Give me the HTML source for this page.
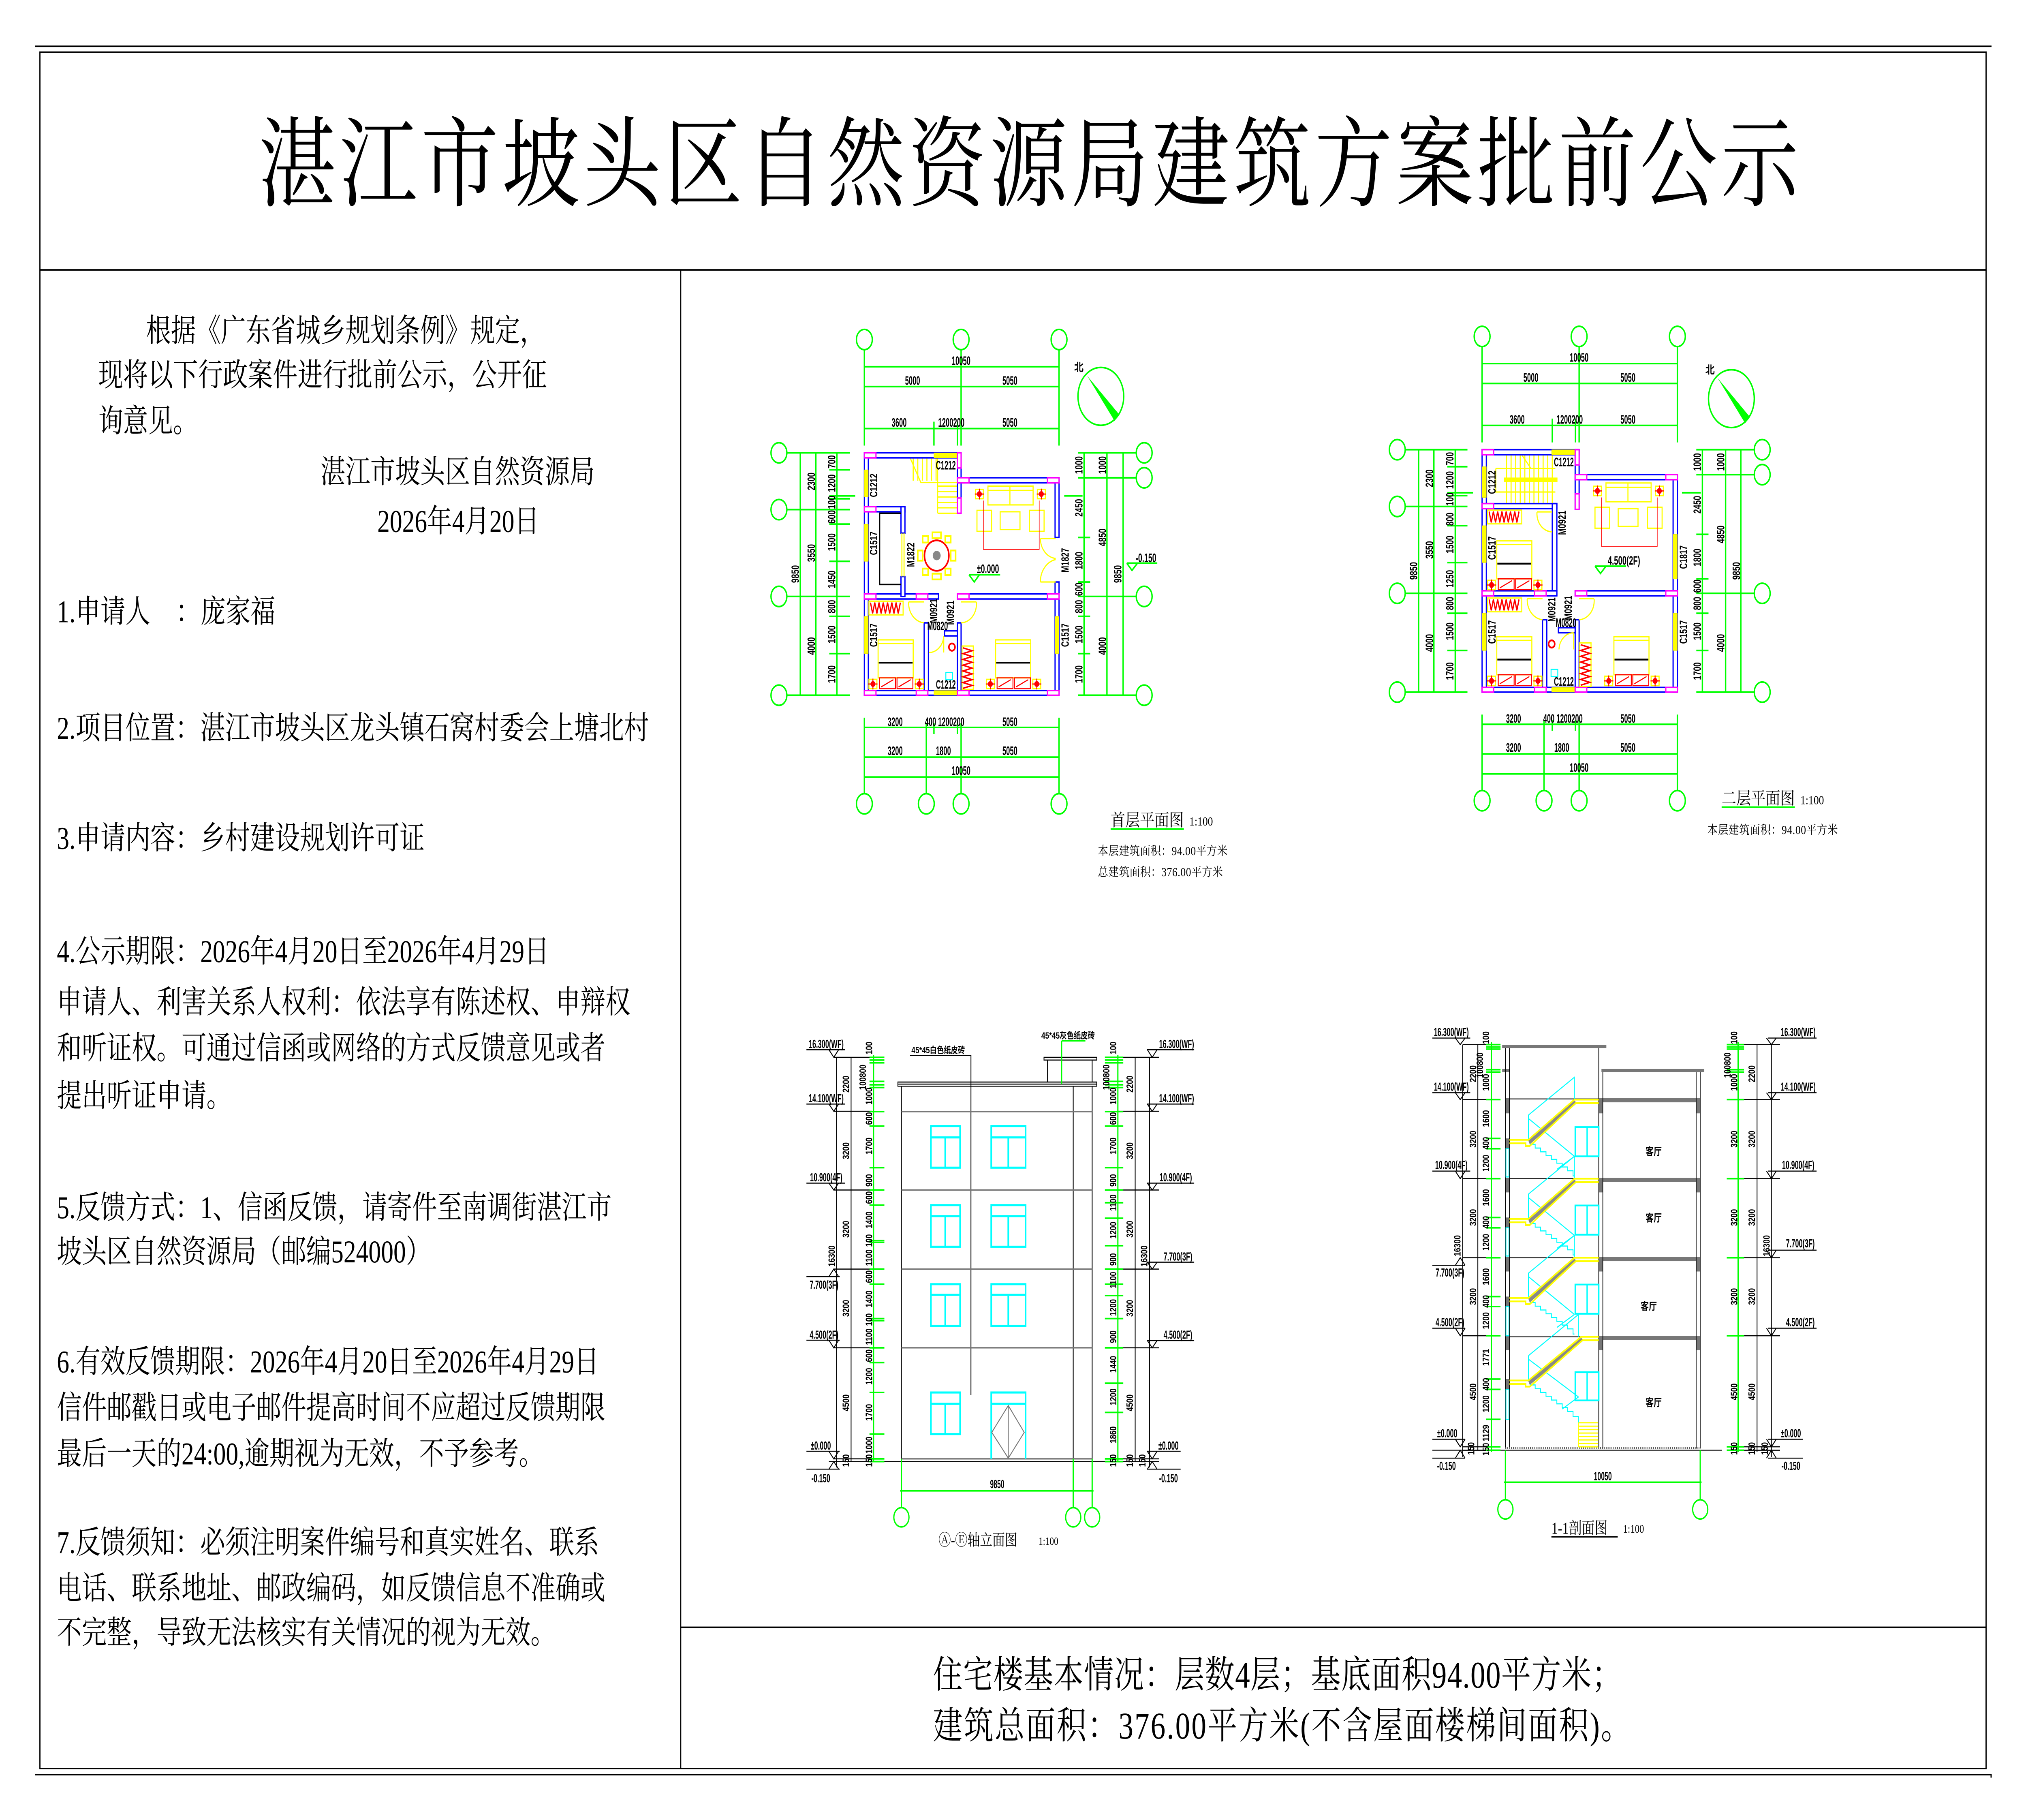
<!DOCTYPE html>
<html><head><meta charset="utf-8">
<style>
html,body{margin:0;padding:0;background:#fff;width:100%;height:100%;overflow:hidden;}
svg{display:block;position:absolute;left:0;top:0;width:100vw;height:100vh}
.f{stroke:#000;stroke-width:0.9;fill:none}
.lt{font-family:"Liberation Serif","Noto Serif CJK SC",serif;font-size:19.3px;fill:#000}
.g{stroke:#00ff00;stroke-width:4.5;fill:none}
.b{stroke:#0000ff;stroke-width:4;fill:#fff}
.m{stroke:#ff00ff;stroke-width:4;fill:#fff}
.y{stroke:#ffff00;stroke-width:3.5;fill:none}
.yf{fill:#ffff00;stroke:#e0e000;stroke-width:1}
.r{stroke:#ff0000;stroke-width:3;fill:none}
.c{stroke:#00ffff;stroke-width:6;fill:none}
.c2{stroke:#00ffff;stroke-width:3;fill:none}
.k{stroke:#000;stroke-width:3;fill:none}
.gr{stroke:#777;stroke-width:4;fill:none}
.t{font-family:"Liberation Sans",sans-serif;font-weight:bold;font-size:34px;text-anchor:middle;fill:#000}
.cn{font-family:"Liberation Serif","Noto Serif CJK SC",serif;fill:#000}
.cb{font-family:"Liberation Sans","Noto Sans CJK SC",sans-serif;font-weight:bold;fill:#000}
</style></head><body>
<svg viewBox="0 0 1568 1108.6" preserveAspectRatio="none" xmlns="http://www.w3.org/2000/svg">
<defs>
<g id="lamp"><rect x="-13" y="-13" width="26" height="26" class="y"/><circle r="8" fill="#f00"/><path d="M-15 0H15M0 -15V15" class="r"/></g>
<g id="sofa"><rect x="40" y="0" width="148" height="52" class="y"/><path class="y" d="M112 0V52M40 12H188"/><rect x="4" y="67" width="48" height="58" class="y"/><rect x="176" y="67" width="48" height="58" class="y"/><rect x="80" y="71" width="65" height="49" class="y"/><path class="r" style="stroke-width:2" d="M25 40V175H208V40"/><use href="#lamp" x="12" y="22"/><use href="#lamp" x="215" y="22"/></g>
<g id="bed"><rect width="115" height="105" class="y"/><path d="M2 63H113" stroke="#000" stroke-width="5"/><path class="y" d="M0 10H115"/><rect x="5" y="105" width="52" height="30" class="r"/><rect x="62" y="105" width="52" height="30" class="r"/><path class="r" d="M10 130L50 110M67 130L107 110"/><use href="#lamp" x="-17" y="122"/><use href="#lamp" x="135" y="122"/></g>
<g id="wh"><rect width="112" height="38" class="y"/><polyline class="r" style="stroke-width:4" points="5,4 12,34 19,4 26,34 33,4 40,34 47,4 54,34 61,4 68,34 75,4 82,34 89,4 96,34 103,4"/></g>
<g id="wv"><rect width="37" height="120" class="y"/><polyline class="r" style="stroke-width:4" points="3,5 33,13 3,21 33,29 3,37 33,45 3,53 33,61 3,69 33,77 3,85 33,93 3,101 33,109 3,117"/></g>
</defs>

<!-- frame -->
<path class="f" d="M27 28.2H1541.3M30.9 31.8H1537.1V1077.2H30.9ZM30.9 164.4H1537.1M526.8 164.4V1077.2M526.8 991.2H1537.1M27 1081H1541V1082.8"/>

<text class="cn" x="200" y="121" font-size="60" textLength="1192" lengthAdjust="spacing">湛江市坡头区自然资源局建筑方案批前公示</text>

<!-- left column -->
<text class="lt" x="113" y="208">根据《广东省城乡规划条例》规定，</text>
<text class="lt" x="76" y="235">现将以下行政案件进行批前公示，公开征</text>
<text class="lt" x="76" y="263">询意见。</text>
<text class="lt" x="248" y="294">湛江市坡头区自然资源局</text>
<text class="lt" x="292" y="324">2026年4月20日</text>
<text class="lt" x="44" y="379">1.申请人</text>
<text class="lt" x="136" y="379">：庞家福</text>
<text class="lt" x="44" y="450">2.项目位置：湛江市坡头区龙头镇石窝村委会上塘北村</text>
<text class="lt" x="44" y="517">3.申请内容：乡村建设规划许可证</text>
<text class="lt" x="44" y="586">4.公示期限：2026年4月20日至2026年4月29日</text>
<text class="lt" x="44" y="617">申请人、利害关系人权利：依法享有陈述权、申辩权</text>
<text class="lt" x="44" y="645">和听证权。可通过信函或网络的方式反馈意见或者</text>
<text class="lt" x="44" y="674">提出听证申请。</text>
<text class="lt" x="44" y="742">5.反馈方式：1、信函反馈，请寄件至南调街湛江市</text>
<text class="lt" x="44" y="769">坡头区自然资源局（邮编524000）</text>
<text class="lt" x="44" y="836">6.有效反馈期限：2026年4月20日至2026年4月29日</text>
<text class="lt" x="44" y="864">信件邮戳日或电子邮件提高时间不应超过反馈期限</text>
<text class="lt" x="44" y="892">最后一天的24:00,逾期视为无效，不予参考。</text>
<text class="lt" x="44" y="946">7.反馈须知：必须注明案件编号和真实姓名、联系</text>
<text class="lt" x="44" y="974">电话、联系地址、邮政编码，如反馈信息不准确或</text>
<text class="lt" x="44" y="1001">不完整，导致无法核实有关情况的视为无效。</text>

<!-- bottom box -->
<text class="cn" x="722" y="1028" font-size="23" textLength="533" lengthAdjust="spacing">住宅楼基本情况：层数4层；基底面积94.00平方米；</text>
<text class="cn" x="722" y="1059" font-size="23" textLength="540" lengthAdjust="spacing">建筑总面积：376.00平方米(不含屋面楼梯间面积)。</text>

<!-- ============ PLAN 1 ============ -->
<g transform="translate(587.5,192.5) scale(0.23615,0.2204)">
<path class="g" d="M345 92V358M662 92V358M983 92V358M345 140H983M345 195H983M345 311H983M573 292V358M650 292V358M345 1110V1322M983 1110V1322M548 1125V1322M662 1125V1322M573 1125V1155M650 1125V1155M345 1137H983M345 1219H983M345 1274H983M92 378H297M92 535H297M92 775H297M92 1048H297M135 378V1048M186 378V1048M255 378V1048M230 425H297M230 497H315M230 505H297M230 575H297M230 678H297M230 830H297M230 933H297M1045 378H1235M1045 447H1235M1045 775H1235M1045 1048H1235M1065 378V1048M1140 378V1048M1193 378V1048M1045 612H1085M1045 735H1085M1045 830H1085M1045 933H1085M1000 497H1060M688 715H790M688 715L705 735L722 715M1205 683H1305M1205 683L1222 703L1240 683M1152 1418H1392"/>
<g class="g">
<ellipse cx="345" cy="65" rx="26" ry="28"/><ellipse cx="662" cy="65" rx="26" ry="28"/><ellipse cx="983" cy="65" rx="26" ry="28"/>
<ellipse cx="345" cy="1348" rx="26" ry="28"/><ellipse cx="548" cy="1348" rx="26" ry="28"/><ellipse cx="662" cy="1348" rx="26" ry="28"/><ellipse cx="983" cy="1348" rx="26" ry="28"/>
<ellipse cx="65" cy="378" rx="26" ry="28"/><ellipse cx="65" cy="535" rx="26" ry="28"/><ellipse cx="65" cy="775" rx="26" ry="28"/><ellipse cx="65" cy="1048" rx="26" ry="28"/>
<ellipse cx="1262" cy="378" rx="26" ry="28"/><ellipse cx="1262" cy="447" rx="26" ry="28"/><ellipse cx="1262" cy="775" rx="26" ry="28"/><ellipse cx="1262" cy="1048" rx="26" ry="28"/>
<ellipse cx="1120" cy="222" rx="75" ry="80"/>
</g>
<polygon points="1075,165 1180,272 1165,290" fill="#00ff00"/>
<!-- stairs -->
<path class="y" d="M495 392L530 460H650M505 392V455M520 392V455M535 392V455M550 392V455M565 392V455M580 392V455M585 392V545M585 470H650M585 485H650M585 500H650M585 515H650M585 530H650M585 545H650"/>
<!-- walls -->
<rect class="b" x="345" y="378" width="317" height="14"/>
<rect class="b" x="650" y="378" width="12" height="167"/>
<rect class="b" x="650" y="447" width="333" height="14"/>
<rect class="b" x="970" y="447" width="13" height="165"/>
<rect class="b" x="970" y="735" width="13" height="313"/>
<rect class="b" x="345" y="378" width="13" height="670"/>
<rect class="b" x="345" y="1035" width="638" height="13"/>
<rect class="b" x="345" y="768" width="243" height="14"/>
<rect class="b" x="650" y="768" width="333" height="14"/>
<rect class="b" x="358" y="527" width="120" height="14"/>
<rect class="b" x="465" y="527" width="13" height="73"/>
<rect class="b" x="465" y="720" width="13" height="55"/>
<rect class="b" x="541" y="848" width="14" height="187"/>
<rect class="b" x="650" y="848" width="12" height="187"/>
<rect class="b" x="608" y="870" width="42" height="14"/>
<g class="yf">
<rect x="573" y="378" width="77" height="14"/><rect x="345" y="425" width="13" height="75"/><rect x="345" y="575" width="13" height="103"/><rect x="345" y="830" width="13" height="103"/><rect x="970" y="830" width="13" height="103"/><rect x="573" y="1035" width="77" height="13"/>
</g>
<g class="m">
<rect x="345" y="378" width="38" height="14"/><rect x="650" y="378" width="12" height="42"/><rect x="650" y="503" width="12" height="42"/><rect x="650" y="447" width="38" height="14"/><rect x="945" y="447" width="38" height="14"/><rect x="345" y="527" width="38" height="14"/><rect x="345" y="768" width="38" height="14"/><rect x="515" y="768" width="38" height="14"/><rect x="650" y="768" width="38" height="14"/><rect x="945" y="768" width="38" height="14"/><rect x="345" y="1035" width="38" height="13"/><rect x="515" y="1035" width="38" height="13"/><rect x="650" y="1035" width="38" height="13"/><rect x="945" y="1035" width="38" height="13"/>
</g>
<!-- doors -->
<path class="y" d="M922 615H972M922 615A55 55 0 0 0 972 670M922 735H972M922 735A62 62 0 0 1 972 673M468 600V720M475 600V720M490 790H541M490 790A55 55 0 0 0 541 848M712 790H662M712 790A52 52 0 0 1 662 848M605 884V930M605 884A48 48 0 0 1 557 930"/>
<path d="M465 545H395V742H465" stroke="#000" stroke-width="4" fill="none"/>
<!-- dining -->
<ellipse cx="582" cy="662" rx="40" ry="42" class="r" style="stroke-width:5"/>
<circle cx="582" cy="662" r="13" fill="#888"/>
<g class="y" style="stroke-width:5"><rect x="568" y="598" width="28" height="16"/><rect x="568" y="712" width="28" height="16"/><rect x="520" y="648" width="16" height="28"/><rect x="628" y="648" width="16" height="28"/><rect x="536" y="608" width="18" height="18"/><rect x="610" y="608" width="18" height="18"/><rect x="536" y="698" width="18" height="18"/><rect x="610" y="698" width="18" height="18"/></g>
<use href="#sofa" x="710" y="470"/>
<use href="#bed" x="390" y="895"/>
<use href="#bed" x="775" y="895"/>
<use href="#wh" x="360" y="788"/>
<use href="#wv" x="665" y="912"/>
<circle cx="632" cy="915" r="10" class="r" style="stroke-width:5"/>
<rect x="612" y="985" width="22" height="20" class="c2"/>
<g class="t">
<text transform="translate(662,135)scale(.65,1)">10050</text>
<text transform="translate(503,190)scale(.65,1)">5000</text>
<text transform="translate(822,190)scale(.65,1)">5050</text>
<text transform="translate(459,306)scale(.65,1)">3600</text>
<text transform="translate(630,306)scale(.65,1)">1200200</text>
<text transform="translate(822,306)scale(.65,1)">5050</text>
<text transform="translate(446,1133)scale(.65,1)">3200</text>
<text transform="translate(608,1133)scale(.65,1)">400 1200200</text>
<text transform="translate(822,1133)scale(.65,1)">5050</text>
<text transform="translate(446,1213)scale(.65,1)">3200</text>
<text transform="translate(604,1213)scale(.65,1)">1800</text>
<text transform="translate(822,1213)scale(.65,1)">5050</text>
<text transform="translate(662,1268)scale(.65,1)">10050</text>
<text transform="translate(130,713)rotate(-90)scale(.65,1)">9850</text>
<text transform="translate(183,457)rotate(-90)scale(.65,1)">2300</text>
<text transform="translate(183,655)rotate(-90)scale(.65,1)">3550</text>
<text transform="translate(183,912)rotate(-90)scale(.65,1)">4000</text>
<text transform="translate(250,403)rotate(-90)scale(.65,1)">700</text>
<text transform="translate(250,462)rotate(-90)scale(.65,1)">1200</text>
<text transform="translate(250,515)rotate(-90)scale(.65,1)">100</text>
<text transform="translate(250,555)rotate(-90)scale(.65,1)">600</text>
<text transform="translate(250,625)rotate(-90)scale(.65,1)">1500</text>
<text transform="translate(250,728)rotate(-90)scale(.65,1)">1450</text>
<text transform="translate(250,803)rotate(-90)scale(.65,1)">800</text>
<text transform="translate(250,880)rotate(-90)scale(.65,1)">1500</text>
<text transform="translate(250,990)rotate(-90)scale(.65,1)">1700</text>
<text transform="translate(1060,412)rotate(-90)scale(.65,1)">1000</text>
<text transform="translate(1060,530)rotate(-90)scale(.65,1)">2450</text>
<text transform="translate(1060,676)rotate(-90)scale(.65,1)">1800</text>
<text transform="translate(1060,755)rotate(-90)scale(.65,1)">600</text>
<text transform="translate(1060,803)rotate(-90)scale(.65,1)">800</text>
<text transform="translate(1060,880)rotate(-90)scale(.65,1)">1500</text>
<text transform="translate(1060,990)rotate(-90)scale(.65,1)">1700</text>
<text transform="translate(1137,412)rotate(-90)scale(.65,1)">1000</text>
<text transform="translate(1137,612)rotate(-90)scale(.65,1)">4850</text>
<text transform="translate(1137,912)rotate(-90)scale(.65,1)">4000</text>
<text transform="translate(1187,713)rotate(-90)scale(.65,1)">9850</text>
<text transform="translate(612,424)scale(.65,1)">C1212</text>
<text transform="translate(387,468)rotate(-90)scale(.65,1)">C1212</text>
<text transform="translate(387,628)rotate(-90)scale(.65,1)">C1517</text>
<text transform="translate(509,660)rotate(-90)scale(.65,1)">M1822</text>
<text transform="translate(1015,675)rotate(-90)scale(.65,1)">M1827</text>
<text transform="translate(584,815)rotate(-90)scale(.65,1)">M0921</text>
<text transform="translate(639,820)rotate(-90)scale(.65,1)">M0921</text>
<text transform="translate(585,868)scale(.65,1)">M0820</text>
<text transform="translate(387,882)rotate(-90)scale(.65,1)">C1517</text>
<text transform="translate(612,1030)scale(.65,1)">C1212</text>
<text transform="translate(1015,882)rotate(-90)scale(.65,1)">C1517</text>
<text transform="translate(750,710)scale(.7,1)">±0.000</text>
<text transform="translate(1268,680)scale(.7,1)">-0.150</text>
<text transform="translate(1048,152)" style="font-size:30px">北</text>
</g>
<text class="cn" x="1152" y="1410" font-size="48">首层平面图</text>
<text class="cn" x="1410" y="1408" font-size="34">1:100</text>
<text class="cn" x="1110" y="1490" font-size="34" textLength="425" lengthAdjust="spacing">本层建筑面积：94.00平方米</text>
<text class="cn" x="1110" y="1548" font-size="34" textLength="410" lengthAdjust="spacing">总建筑面积：376.00平方米</text>
</g>

<!-- ============ PLAN 2 ============ -->
<g transform="translate(1064.4,190.6) scale(0.23615,0.2204)">
<path class="g" d="M350 92V358M668 92V358M990 92V358M350 140H990M350 195H990M350 311H990M580 292V358M656 292V358M350 1110V1322M990 1110V1322M553 1125V1322M668 1125V1322M580 1125V1155M656 1125V1155M350 1137H990M350 1219H990M350 1274H990M98 378H302M98 535H302M98 775H302M98 1048H302M142 378V1048M192 378V1048M262 378V1048M236 425H302M236 497H320M236 505H302M236 588H302M236 690H302M236 830H302M236 933H302M1052 378H1242M1052 447H1242M1052 775H1242M1052 1048H1242M1072 378V1048M1148 378V1048M1198 378V1048M1052 612H1092M1052 735H1092M1052 830H1092M1052 933H1092M1005 497H1067M720 700H822M720 700L738 720L756 700M1135 1366H1375"/>
<g class="g">
<ellipse cx="350" cy="65" rx="26" ry="28"/><ellipse cx="668" cy="65" rx="26" ry="28"/><ellipse cx="990" cy="65" rx="26" ry="28"/>
<ellipse cx="350" cy="1348" rx="26" ry="28"/><ellipse cx="553" cy="1348" rx="26" ry="28"/><ellipse cx="668" cy="1348" rx="26" ry="28"/><ellipse cx="990" cy="1348" rx="26" ry="28"/>
<ellipse cx="72" cy="378" rx="26" ry="28"/><ellipse cx="72" cy="535" rx="26" ry="28"/><ellipse cx="72" cy="775" rx="26" ry="28"/><ellipse cx="72" cy="1048" rx="26" ry="28"/>
<ellipse cx="1268" cy="378" rx="26" ry="28"/><ellipse cx="1268" cy="447" rx="26" ry="28"/><ellipse cx="1268" cy="775" rx="26" ry="28"/><ellipse cx="1268" cy="1048" rx="26" ry="28"/>
<ellipse cx="1167" cy="237" rx="75" ry="80"/>
</g>
<polygon points="1122,180 1227,287 1212,305" fill="#00ff00"/>
<!-- stairs -->
<path class="y" d="M365 392V527M430 392V527M445 392V527M460 392V527M475 392V527M490 392V527M505 392V527M520 392V527M535 392V527M550 392V527M565 392V527M580 392V527M395 430H590M395 430V495H590M480 392L510 430"/>
<rect x="422" y="455" width="175" height="12" fill="#ffff00"/>
<!-- walls -->
<rect class="b" x="350" y="378" width="318" height="14"/>
<rect class="b" x="655" y="378" width="13" height="165"/>
<rect class="b" x="655" y="447" width="335" height="14"/>
<rect class="b" x="976" y="447" width="14" height="601"/>
<rect class="b" x="350" y="378" width="14" height="670"/>
<rect class="b" x="350" y="1035" width="640" height="13"/>
<rect class="b" x="350" y="527" width="245" height="14"/>
<rect class="b" x="580" y="527" width="15" height="253"/>
<rect class="b" x="350" y="768" width="245" height="14"/>
<rect class="b" x="655" y="768" width="335" height="14"/>
<rect class="b" x="548" y="848" width="14" height="187"/>
<rect class="b" x="655" y="848" width="13" height="187"/>
<rect class="b" x="600" y="870" width="55" height="14"/>
<g class="yf">
<rect x="578" y="378" width="77" height="14"/><rect x="350" y="425" width="14" height="85"/><rect x="350" y="588" width="14" height="102"/><rect x="350" y="830" width="14" height="103"/><rect x="976" y="612" width="14" height="123"/><rect x="976" y="830" width="14" height="103"/><rect x="578" y="1035" width="77" height="13"/>
</g>
<g class="m">
<rect x="350" y="378" width="38" height="14"/><rect x="655" y="378" width="13" height="42"/><rect x="655" y="500" width="13" height="43"/><rect x="655" y="447" width="38" height="14"/><rect x="952" y="447" width="38" height="14"/><rect x="350" y="527" width="38" height="14"/><rect x="350" y="768" width="38" height="14"/><rect x="522" y="768" width="38" height="14"/><rect x="655" y="768" width="38" height="14"/><rect x="952" y="768" width="38" height="14"/><rect x="350" y="1035" width="38" height="13"/><rect x="522" y="1035" width="38" height="13"/><rect x="655" y="1035" width="38" height="13"/><rect x="952" y="1035" width="38" height="13"/>
</g>
<path class="y" d="M530 550H580M530 550A50 50 0 0 0 580 605M498 790H548M498 790A55 55 0 0 0 548 848M717 790H668M717 790A52 52 0 0 1 668 848M650 884V930M650 884A48 48 0 0 0 602 930"/>
<use href="#sofa" x="716" y="470"/>
<use href="#wh" x="368" y="545"/>
<use href="#bed" x="398" y="630"/>
<use href="#wh" x="368" y="788"/>
<use href="#bed" x="398" y="895"/>
<use href="#bed" x="782" y="895"/>
<use href="#wv" x="670" y="912"/>
<circle cx="578" cy="915" r="10" class="r" style="stroke-width:5"/>
<rect x="576" y="985" width="22" height="20" class="c2"/>
<g class="t">
<text transform="translate(668,135)scale(.65,1)">10050</text>
<text transform="translate(510,190)scale(.65,1)">5000</text>
<text transform="translate(828,190)scale(.65,1)">5050</text>
<text transform="translate(465,306)scale(.65,1)">3600</text>
<text transform="translate(637,306)scale(.65,1)">1200200</text>
<text transform="translate(828,306)scale(.65,1)">5050</text>
<text transform="translate(453,1133)scale(.65,1)">3200</text>
<text transform="translate(615,1133)scale(.65,1)">400 1200200</text>
<text transform="translate(828,1133)scale(.65,1)">5050</text>
<text transform="translate(453,1213)scale(.65,1)">3200</text>
<text transform="translate(611,1213)scale(.65,1)">1800</text>
<text transform="translate(828,1213)scale(.65,1)">5050</text>
<text transform="translate(668,1268)scale(.65,1)">10050</text>
<text transform="translate(137,713)rotate(-90)scale(.65,1)">9850</text>
<text transform="translate(189,457)rotate(-90)scale(.65,1)">2300</text>
<text transform="translate(189,655)rotate(-90)scale(.65,1)">3550</text>
<text transform="translate(189,912)rotate(-90)scale(.65,1)">4000</text>
<text transform="translate(256,403)rotate(-90)scale(.65,1)">700</text>
<text transform="translate(256,462)rotate(-90)scale(.65,1)">1200</text>
<text transform="translate(256,515)rotate(-90)scale(.65,1)">100</text>
<text transform="translate(256,570)rotate(-90)scale(.65,1)">800</text>
<text transform="translate(256,640)rotate(-90)scale(.65,1)">1500</text>
<text transform="translate(256,735)rotate(-90)scale(.65,1)">1250</text>
<text transform="translate(256,803)rotate(-90)scale(.65,1)">800</text>
<text transform="translate(256,880)rotate(-90)scale(.65,1)">1500</text>
<text transform="translate(256,990)rotate(-90)scale(.65,1)">1700</text>
<text transform="translate(1067,412)rotate(-90)scale(.65,1)">1000</text>
<text transform="translate(1067,530)rotate(-90)scale(.65,1)">2450</text>
<text transform="translate(1067,676)rotate(-90)scale(.65,1)">1800</text>
<text transform="translate(1067,755)rotate(-90)scale(.65,1)">600</text>
<text transform="translate(1067,803)rotate(-90)scale(.65,1)">800</text>
<text transform="translate(1067,880)rotate(-90)scale(.65,1)">1500</text>
<text transform="translate(1067,990)rotate(-90)scale(.65,1)">1700</text>
<text transform="translate(1144,412)rotate(-90)scale(.65,1)">1000</text>
<text transform="translate(1144,612)rotate(-90)scale(.65,1)">4850</text>
<text transform="translate(1144,912)rotate(-90)scale(.65,1)">4000</text>
<text transform="translate(1195,713)rotate(-90)scale(.65,1)">9850</text>
<text transform="translate(618,424)scale(.65,1)">C1212</text>
<text transform="translate(394,468)rotate(-90)scale(.65,1)">C1212</text>
<text transform="translate(394,650)rotate(-90)scale(.65,1)">C1517</text>
<text transform="translate(624,580)rotate(-90)scale(.65,1)">M0921</text>
<text transform="translate(1022,675)rotate(-90)scale(.65,1)">C1817</text>
<text transform="translate(590,820)rotate(-90)scale(.65,1)">M0921</text>
<text transform="translate(644,815)rotate(-90)scale(.65,1)">M0921</text>
<text transform="translate(625,868)scale(.65,1)">M0820</text>
<text transform="translate(394,882)rotate(-90)scale(.65,1)">C1517</text>
<text transform="translate(618,1030)scale(.65,1)">C1212</text>
<text transform="translate(1022,882)rotate(-90)scale(.65,1)">C1517</text>
<text transform="translate(815,696)scale(.72,1)">4.500(2F)</text>
<text transform="translate(1097,168)" style="font-size:30px">北</text>
</g>
<text class="cn" x="1135" y="1358" font-size="48">二层平面图</text>
<text class="cn" x="1393" y="1358" font-size="34">1:100</text>
<text class="cn" x="1088" y="1440" font-size="34" textLength="428" lengthAdjust="spacing">本层建筑面积：94.00平方米</text>
</g>

<!-- ============ ELEVATION ============ -->
<g transform="translate(612.2,612.2) scale(0.2094)">
<path class="k" d="M408 236V1328M1113 236V1328M1043 236V1328M395 224H1130V236H395ZM395 230H1130M935 152H1130V160H935ZM948 160V224M1113 160V224M140 1328H1360M440 147H665V1135"/>
<path class="gr" d="M408 310H1113M408 538H1113M408 768H1113M408 997H1113M408 1320H1113"/>
<path class="g" d="M1000 104H1088M1000 104V230"/>
<g class="c">
<rect x="517" y="352" width="108" height="121"/><rect x="740" y="352" width="127" height="121"/>
<rect x="517" y="582" width="108" height="121"/><rect x="740" y="582" width="127" height="121"/>
<rect x="517" y="812" width="108" height="121"/><rect x="740" y="812" width="127" height="121"/>
<rect x="517" y="1127" width="108" height="121"/>
<path d="M517 385H625M570 385V473M740 385H867M803 385V473M517 614H625M570 614V703M740 614H867M803 614V703M517 843H625M570 843V933M740 843H867M803 843V933M517 1160H625M570 1160V1248M740 1320V1127H867V1320M740 1160H867"/>
</g>
<path d="M803 1165L862 1243L803 1318L742 1243ZM803 1165V1318" stroke="#777" stroke-width="3" fill="none"/>
<!-- left dims -->
<path class="k" d="M168 152V1345M222 152V1328M160 152H300M160 309H300M160 538H300M160 768H300M160 997H300M160 1320H300M57 130H200M57 288H200M57 518H200M57 790H180M57 975H180M57 1298H180M57 1350H180M140 130L158 152L176 130M140 288L158 309L176 288M140 518L158 538L176 518M140 790L158 768L176 790M140 975L158 997L176 975M140 1298L158 1320L176 1298M140 1350L158 1328L176 1350"/>
<path class="g" d="M305 145V1330M290 152H345M290 160H345M290 168H345M290 222H345M290 232H345M290 240H345M290 310H345M290 352H345M290 473H345M290 538H345M290 582H345M290 685H345M290 690H345M290 768H345M290 812H345M290 912H345M290 918H345M290 997H345M290 1040H345M290 1127H345M290 1248H345M290 1320H345M290 1328H345"/>
<!-- right dims -->
<path class="k" d="M1272 152V1328M1325 152V1345M1210 152H1360M1210 309H1360M1210 538H1360M1210 768H1360M1210 997H1360M1210 1320H1360M1315 130H1490M1315 288H1490M1315 518H1490M1315 748H1490M1315 976H1490M1315 1298H1440M1315 1350H1440M1317 130L1335 152L1353 130M1317 288L1335 309L1353 288M1317 518L1335 538L1353 518M1317 748L1335 768L1353 748M1317 976L1335 997L1353 976M1317 1298L1335 1320L1353 1298M1317 1350L1335 1328L1353 1350"/>
<path class="g" d="M1208 145V1330M1160 152H1228M1160 160H1228M1160 168H1228M1160 222H1228M1160 232H1228M1160 240H1228M1160 310H1228M1160 352H1228M1160 473H1228M1160 538H1228M1160 575H1228M1160 620H1228M1160 700H1228M1160 768H1228M1160 812H1228M1160 845H1228M1160 912H1228M1160 997H1228M1160 1100H1228M1160 1185H1228M1160 1320H1228M1160 1328H1228"/>
<!-- bottom -->
<path class="g" d="M408 1320V1462M1043 1320V1462M1113 1320V1462M403 1413H1118"/>
<g class="g"><ellipse cx="408" cy="1490" rx="28" ry="28"/><ellipse cx="1043" cy="1490" rx="28" ry="28"/><ellipse cx="1113" cy="1490" rx="28" ry="28"/></g>
<text class="cb" x="445" y="140" font-size="26">45*45白色纸皮砖</text>
<text class="cb" x="925" y="98" font-size="26">45*45灰色纸皮砖</text>
<g class="t">
<text transform="translate(130,125)scale(.72,1)">16.300(WF)</text>
<text transform="translate(130,283)scale(.72,1)">14.100(WF)</text>
<text transform="translate(130,513)scale(.72,1)">10.900(4F)</text>
<text transform="translate(122,825)scale(.72,1)">7.700(3F)</text>
<text transform="translate(122,971)scale(.72,1)">4.500(2F)</text>
<text transform="translate(110,1293)scale(.72,1)">±0.000</text>
<text transform="translate(110,1388)scale(.72,1)">-0.150</text>
<text transform="translate(1425,125)scale(.72,1)">16.300(WF)</text>
<text transform="translate(1425,283)scale(.72,1)">14.100(WF)</text>
<text transform="translate(1422,513)scale(.72,1)">10.900(4F)</text>
<text transform="translate(1430,743)scale(.72,1)">7.700(3F)</text>
<text transform="translate(1430,971)scale(.72,1)">4.500(2F)</text>
<text transform="translate(1395,1293)scale(.72,1)">±0.000</text>
<text transform="translate(1395,1388)scale(.72,1)">-0.150</text>
<text transform="translate(762,1405)scale(.7,1)">9850</text>
<text transform="translate(215,230)rotate(-90)scale(.65,1)">2200</text>
<text transform="translate(215,424)rotate(-90)scale(.65,1)">3200</text>
<text transform="translate(215,652)rotate(-90)scale(.65,1)">3200</text>
<text transform="translate(215,882)rotate(-90)scale(.65,1)">3200</text>
<text transform="translate(215,1157)rotate(-90)scale(.65,1)">4500</text>
<text transform="translate(215,1325)rotate(-90)scale(.65,1)">150</text>
<text transform="translate(162,730)rotate(-90)scale(.65,1)">16300</text>
<text transform="translate(300,125)rotate(-90)scale(.65,1)">100</text>
<text transform="translate(277,210)rotate(-90)scale(.65,1)">100800</text>
<text transform="translate(300,265)rotate(-90)scale(.65,1)">1000</text>
<text transform="translate(300,330)rotate(-90)scale(.65,1)">600</text>
<text transform="translate(300,410)rotate(-90)scale(.65,1)">1700</text>
<text transform="translate(300,510)rotate(-90)scale(.65,1)">900</text>
<text transform="translate(300,560)rotate(-90)scale(.65,1)">600</text>
<text transform="translate(300,625)rotate(-90)scale(.65,1)">1400</text>
<text transform="translate(300,685)rotate(-90)scale(.65,1)">100</text>
<text transform="translate(300,735)rotate(-90)scale(.65,1)">1100</text>
<text transform="translate(300,790)rotate(-90)scale(.65,1)">600</text>
<text transform="translate(300,855)rotate(-90)scale(.65,1)">1400</text>
<text transform="translate(300,915)rotate(-90)scale(.65,1)">100</text>
<text transform="translate(300,965)rotate(-90)scale(.65,1)">1100</text>
<text transform="translate(300,1020)rotate(-90)scale(.65,1)">600</text>
<text transform="translate(300,1080)rotate(-90)scale(.65,1)">1200</text>
<text transform="translate(300,1185)rotate(-90)scale(.65,1)">1700</text>
<text transform="translate(300,1280)rotate(-90)scale(.65,1)">1000</text>
<text transform="translate(300,1325)rotate(-90)scale(.65,1)">150</text>
<text transform="translate(1202,125)rotate(-90)scale(.65,1)">100</text>
<text transform="translate(1177,210)rotate(-90)scale(.65,1)">100800</text>
<text transform="translate(1202,265)rotate(-90)scale(.65,1)">1000</text>
<text transform="translate(1202,330)rotate(-90)scale(.65,1)">600</text>
<text transform="translate(1202,410)rotate(-90)scale(.65,1)">1700</text>
<text transform="translate(1202,510)rotate(-90)scale(.65,1)">900</text>
<text transform="translate(1202,575)rotate(-90)scale(.65,1)">1100</text>
<text transform="translate(1202,655)rotate(-90)scale(.65,1)">1200</text>
<text transform="translate(1202,740)rotate(-90)scale(.65,1)">900</text>
<text transform="translate(1202,800)rotate(-90)scale(.65,1)">1100</text>
<text transform="translate(1202,880)rotate(-90)scale(.65,1)">1200</text>
<text transform="translate(1202,965)rotate(-90)scale(.65,1)">900</text>
<text transform="translate(1202,1045)rotate(-90)scale(.65,1)">1440</text>
<text transform="translate(1202,1140)rotate(-90)scale(.65,1)">1200</text>
<text transform="translate(1202,1250)rotate(-90)scale(.65,1)">1860</text>
<text transform="translate(1202,1325)rotate(-90)scale(.65,1)">150</text>
<text transform="translate(1264,230)rotate(-90)scale(.65,1)">2200</text>
<text transform="translate(1264,424)rotate(-90)scale(.65,1)">3200</text>
<text transform="translate(1264,652)rotate(-90)scale(.65,1)">3200</text>
<text transform="translate(1264,882)rotate(-90)scale(.65,1)">3200</text>
<text transform="translate(1264,1157)rotate(-90)scale(.65,1)">4500</text>
<text transform="translate(1264,1325)rotate(-90)scale(.65,1)">150</text>
<text transform="translate(1317,730)rotate(-90)scale(.65,1)">16300</text>
<text transform="translate(1310,1325)rotate(-90)scale(.65,1)">150</text>
</g>
<text class="cn" x="545" y="1572" font-size="46">Ⓐ-Ⓔ轴立面图</text>
<text class="cn" x="915" y="1570" font-size="32">1:100</text>
</g>

<!-- ============ SECTION ============ -->
<g transform="translate(1096.0,612.2) scale(0.2094)">
<g fill="#777">
<rect x="331" y="270" width="13" height="45"/><rect x="331" y="503" width="13" height="42"/><rect x="331" y="733" width="13" height="42"/><rect x="331" y="962" width="13" height="42"/>
<rect x="331" y="388" width="13" height="30"/><rect x="331" y="618" width="13" height="30"/><rect x="331" y="848" width="13" height="30"/><rect x="331" y="1088" width="13" height="30"/>
<rect x="676" y="270" width="13" height="45"/><rect x="676" y="503" width="13" height="42"/><rect x="676" y="733" width="13" height="42"/><rect x="676" y="962" width="13" height="42"/>
<rect x="1036" y="270" width="13" height="45"/><rect x="1036" y="503" width="13" height="42"/><rect x="1036" y="733" width="13" height="42"/><rect x="1036" y="962" width="13" height="42"/>
<rect x="690" y="270" width="346" height="13"/><rect x="690" y="503" width="346" height="12"/><rect x="690" y="733" width="346" height="12"/><rect x="690" y="962" width="346" height="12"/>
<rect x="318" y="116" width="385" height="9"/><rect x="318" y="186" width="27" height="9"/><rect x="685" y="186" width="380" height="9"/>
</g>
<path class="k" style="stroke-width:2.5" d="M330 125V1290M345 125V1290M675 125V1290M690 195V1290M1035 195V1290M1050 195V1290M345 273H675M345 505H675M345 735H675M345 965H675M60 1295H1130"/>
<path d="M330 1289H1050" stroke="#555" stroke-width="6" stroke-dasharray="3 4" fill="none"/>
<g class="c2">
<rect x="588" y="355" width="87" height="85" style="stroke-width:5"/><rect x="588" y="583" width="87" height="85" style="stroke-width:5"/><rect x="588" y="813" width="87" height="85" style="stroke-width:5"/><rect x="588" y="1068" width="87" height="82" style="stroke-width:5"/>
<path style="stroke-width:5" d="M632 355V440M632 583V668M632 813V898M632 1068V1150"/>
<rect x="332" y="418" width="11" height="82"/><rect x="332" y="648" width="11" height="82"/><rect x="332" y="877" width="11" height="85"/><rect x="332" y="1118" width="11" height="87"/>
<path d="M415 320L585 210V275M415 320V395M415 330L585 440M585 440L520 478M420 405L440 405L440 416L460 416L460 427L480 427L480 438L500 438L500 449L520 449L520 460L540 460L540 471L560 471L560 482L580 482L580 497L585 497"/>
<path d="M415 550L585 440V505M415 550V625M415 560L585 670M585 670L520 708M420 635L440 635L440 646L460 646L460 657L480 657L480 668L500 668L500 679L520 679L520 690L540 690L540 701L560 701L560 712L580 712L580 727L585 727"/>
<path d="M415 780L585 670V735M415 780V855M415 790L585 900M585 900L520 938M420 865L440 865L440 876L460 876L460 887L480 887L480 898L500 898L500 909L520 909L520 920L540 920L540 931L560 931L560 942L580 942L580 957L585 957"/>
<path d="M415 1020L600 900V965M415 1020V1095M415 1030L600 1140M600 1140L540 1175M420 1105L440 1105L440 1116L460 1116L460 1127L480 1127L480 1138L500 1138L500 1149L520 1149L520 1160L540 1160L540 1171L560 1171L560 1182L580 1182L580 1197L600 1197L600 1215"/>
</g>
<g fill="#888"><polygon points="415,395 585,278 595,285 420,405"/><polygon points="415,625 585,508 595,515 420,635"/><polygon points="415,855 585,738 595,745 420,865"/><polygon points="415,1095 610,968 620,975 420,1105"/></g>
<path class="y" style="stroke-width:5" d="M345 392H415L585 275H675M345 402H405V410H420L590 285H675M345 622H415L585 505H675M345 632H405V640H420L590 515H675M345 852H415L585 735H675M345 862H405V870H420L590 745H675M345 1092H415L610 965H675M345 1102H405V1110H420L615 975H675"/>
<path class="y" d="M600 1215H672M600 1225H672M600 1235H672M600 1245H672M600 1255H672M600 1265H672M600 1275H672M600 1285H672M600 1215V1285"/>
<text class="cb" x="878" y="437" font-size="30" text-anchor="middle">客厅</text>
<text class="cb" x="878" y="630" font-size="30" text-anchor="middle">客厅</text>
<text class="cb" x="860" y="887" font-size="30" text-anchor="middle">客厅</text>
<text class="cb" x="878" y="1167" font-size="30" text-anchor="middle">客厅</text>
<!-- left dims -->
<path class="k" d="M172 115V1315M228 115V1295M172 115H310M172 275H310M172 505H310M172 735H310M172 962H310M172 1285H310M172 1295H310M60 96H200M60 255H200M60 483H200M60 757H180M60 940H180M60 1263H180M60 1318H180M145 96L163 115L181 96M145 255L163 275L181 255M145 483L163 505L181 483M145 757L163 735L181 757M145 940L163 962L181 940M145 1263L163 1285L181 1263M145 1318L163 1295L181 1318"/>
<path class="g" d="M278 108V1300M258 115H312M258 122H312M258 128H312M258 188H312M258 195H312M258 275H312M258 388H312M258 418H312M258 505H312M258 618H312M258 648H312M258 735H312M258 848H312M258 877H312M258 962H312M258 1088H312M258 1118H312M258 1205H312M258 1285H312M258 1295H312"/>
<!-- right dims -->
<path class="k" d="M1260 115V1300M1313 115V1315M1212 115H1345M1212 275H1345M1212 505H1345M1212 735H1345M1212 962H1345M1212 1285H1345M1212 1295H1345M1300 96H1480M1300 255H1480M1300 483H1480M1300 713H1480M1300 940H1480M1300 1263H1430M1300 1318H1430M1295 96L1313 115L1331 96M1295 255L1313 275L1331 255M1295 483L1313 505L1331 483M1295 713L1313 735L1331 713M1295 940L1313 962L1331 940M1295 1263L1313 1285L1331 1263M1295 1318L1313 1295L1331 1318"/>
<path class="g" d="M1190 108V1300M1148 115H1212M1148 122H1212M1148 128H1212M1148 188H1212M1148 195H1212M1148 275H1212M1148 505H1212M1148 735H1212M1148 962H1212M1148 1285H1212M1148 1295H1212"/>
<path class="g" d="M330 1295V1440M1050 1295V1440M325 1388H1055"/>
<g class="g"><ellipse cx="330" cy="1467" rx="28" ry="28"/><ellipse cx="1050" cy="1467" rx="28" ry="28"/></g>
<g class="t">
<text transform="translate(130,90)scale(.72,1)">16.300(WF)</text>
<text transform="translate(130,249)scale(.72,1)">14.100(WF)</text>
<text transform="translate(130,477)scale(.72,1)">10.900(4F)</text>
<text transform="translate(125,790)scale(.72,1)">7.700(3F)</text>
<text transform="translate(125,934)scale(.72,1)">4.500(2F)</text>
<text transform="translate(115,1257)scale(.72,1)">±0.000</text>
<text transform="translate(112,1352)scale(.72,1)">-0.150</text>
<text transform="translate(1412,90)scale(.72,1)">16.300(WF)</text>
<text transform="translate(1412,249)scale(.72,1)">14.100(WF)</text>
<text transform="translate(1412,477)scale(.72,1)">10.900(4F)</text>
<text transform="translate(1420,705)scale(.72,1)">7.700(3F)</text>
<text transform="translate(1420,934)scale(.72,1)">4.500(2F)</text>
<text transform="translate(1385,1257)scale(.72,1)">±0.000</text>
<text transform="translate(1385,1352)scale(.72,1)">-0.150</text>
<text transform="translate(690,1382)scale(.7,1)">10050</text>
<text transform="translate(222,200)rotate(-90)scale(.65,1)">2200</text>
<text transform="translate(222,390)rotate(-90)scale(.65,1)">3200</text>
<text transform="translate(222,618)rotate(-90)scale(.65,1)">3200</text>
<text transform="translate(222,848)rotate(-90)scale(.65,1)">3200</text>
<text transform="translate(222,1125)rotate(-90)scale(.65,1)">4500</text>
<text transform="translate(215,1290)rotate(-90)scale(.65,1)">150</text>
<text transform="translate(164,700)rotate(-90)scale(.65,1)">16300</text>
<text transform="translate(270,95)rotate(-90)scale(.65,1)">100</text>
<text transform="translate(247,175)rotate(-90)scale(.65,1)">100800</text>
<text transform="translate(270,225)rotate(-90)scale(.65,1)">1000</text>
<text transform="translate(270,330)rotate(-90)scale(.65,1)">1600</text>
<text transform="translate(270,402)rotate(-90)scale(.65,1)">400</text>
<text transform="translate(270,460)rotate(-90)scale(.65,1)">1200</text>
<text transform="translate(270,560)rotate(-90)scale(.65,1)">1600</text>
<text transform="translate(270,632)rotate(-90)scale(.65,1)">400</text>
<text transform="translate(270,690)rotate(-90)scale(.65,1)">1200</text>
<text transform="translate(270,790)rotate(-90)scale(.65,1)">1600</text>
<text transform="translate(270,862)rotate(-90)scale(.65,1)">400</text>
<text transform="translate(270,918)rotate(-90)scale(.65,1)">1200</text>
<text transform="translate(270,1025)rotate(-90)scale(.65,1)">1771</text>
<text transform="translate(270,1103)rotate(-90)scale(.65,1)">400</text>
<text transform="translate(270,1160)rotate(-90)scale(.65,1)">1200</text>
<text transform="translate(270,1245)rotate(-90)scale(.65,1)">1129</text>
<text transform="translate(270,1292)rotate(-90)scale(.65,1)">150</text>
<text transform="translate(1187,95)rotate(-90)scale(.65,1)">100</text>
<text transform="translate(1162,175)rotate(-90)scale(.65,1)">100800</text>
<text transform="translate(1187,225)rotate(-90)scale(.65,1)">1000</text>
<text transform="translate(1187,390)rotate(-90)scale(.65,1)">3200</text>
<text transform="translate(1187,618)rotate(-90)scale(.65,1)">3200</text>
<text transform="translate(1187,848)rotate(-90)scale(.65,1)">3200</text>
<text transform="translate(1187,1125)rotate(-90)scale(.65,1)">4500</text>
<text transform="translate(1187,1290)rotate(-90)scale(.65,1)">150</text>
<text transform="translate(1252,200)rotate(-90)scale(.65,1)">2200</text>
<text transform="translate(1252,390)rotate(-90)scale(.65,1)">3200</text>
<text transform="translate(1252,618)rotate(-90)scale(.65,1)">3200</text>
<text transform="translate(1252,848)rotate(-90)scale(.65,1)">3200</text>
<text transform="translate(1252,1125)rotate(-90)scale(.65,1)">4500</text>
<text transform="translate(1252,1290)rotate(-90)scale(.65,1)">150</text>
<text transform="translate(1307,700)rotate(-90)scale(.65,1)">16300</text>
<text transform="translate(1300,1290)rotate(-90)scale(.65,1)">150</text>
</g>
<text class="cn" x="500" y="1538" font-size="48">1-1剖面图</text>
<path d="M500 1547H745" stroke="#000" stroke-width="4"/>
<text class="cn" x="765" y="1535" font-size="34">1:100</text>
</g>
</svg>
</body></html>
